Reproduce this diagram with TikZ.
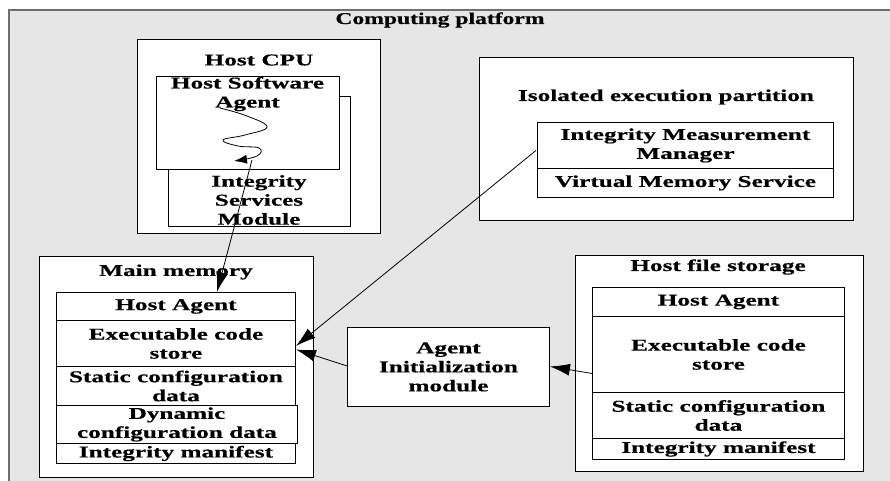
\documentclass[tikz,border=0pt]{standalone}
\usepackage{fontspec}
\setmainfont{Liberation Serif}
\newfontfamily\wfont{Liberation Serif}[FakeStretch=1.53,FakeBold=0.5]
\newfontfamily\pfont{Liberation Serif}[FakeStretch=1.43,FakeBold=0.5]
\usetikzlibrary{arrows.meta,calc}
\definecolor{platgrey}{HTML}{E6E6E6}
\definecolor{platline}{HTML}{6E6E6E}
\tikzset{
  box/.style={draw=black, line width=0.9pt, fill=white, inner sep=0pt, anchor=north west},
  cell/.style={box, align=center, font=\wfont\bfseries\fontsize{16.5}{19}\selectfont},
  txt/.style={inner sep=0pt, align=center, font=\wfont\bfseries\fontsize{16.5}{19}\selectfont},
  arr/.style={line width=0.8pt, -{Latex[length=20pt,width=12pt]}},
  warr/.style={line width=0.8pt, -{Latex[length=13pt,width=9pt]}}
}
\begin{document}
\begin{tikzpicture}[x=1pt,y=-1pt]
\useasboundingbox (0,0) rectangle (890,480);
\clip (0,0) rectangle (890,480);
% platform
\draw[fill=platgrey, draw=platline, line width=2pt] (9,10) rectangle (900,495);
\node[inner sep=0pt, font=\pfont\bfseries\fontsize{16.5}{19}\selectfont] (plat) at (440,20) {Computing platform};

% Host CPU
\node[box, minimum width=243, minimum height=194] (cpu) at (137,39) {};
\node[txt] (cputitle) at (259,60) {Host CPU};
\node[box, minimum width=182, minimum height=130] (ism) at (168,96) {};
\node[txt] (ismtxt) at (259,200) {Integrity\\Services\\Module};
\node[box, minimum width=183, minimum height=93] (hsa) at (156,76) {};
\node[txt] (hsatxt) at (247.5,94) {Host Software\\Agent};
\draw[warr] plot[smooth, tension=0.7] coordinates {(220,108) (247,116) (267,127) (245,135) (223,140) (238,146) (259,148) (257,156) (234,161)};

% Isolated execution partition
\node[box, minimum width=374, minimum height=163] (iep) at (479,57) {};
\node[txt] (ieptitle) at (666,97) {Isolated execution partition};
\node[cell, minimum width=296, minimum height=46] (imm) at (537,122) {Integrity Measurement\\Manager};
\node[cell, minimum width=296, minimum height=29] (vms) at (537,168) {Virtual Memory Service};

% Main memory
\node[box, minimum width=274, minimum height=221] (mm) at (39,256) {};
\node[txt] (mmtitle) at (176,272) {Main memory};
\node[cell, minimum width=239, minimum height=28] (mha) at (56,292) {Host Agent};
\node[cell, minimum width=239, minimum height=46] (mexec) at (56,320) {Executable code\\store};
\node[cell, minimum width=239, minimum height=39] (mstat) at (56,366) {Static configuration\\data};
\node[cell, minimum width=241, minimum height=38] (mdyn) at (56,405) {Dynamic\\configuration data};
\node[cell, minimum width=239, minimum height=20] (mman) at (56,443) {Integrity manifest};

% Agent Initialization module
\node[cell, minimum width=202, minimum height=79] (aim) at (347,327) {Agent\\Initialization\\module};

% Host file storage
\node[box, minimum width=288, minimum height=216] (hfs) at (575,255) {};
\node[txt] (hfstitle) at (718,267) {Host file storage};
\node[cell, minimum width=252, minimum height=29] (fha) at (592,287) {Host Agent};
\node[cell, minimum width=252, minimum height=76] (fexec) at (592,316) {Executable code\\store};
\node[cell, minimum width=252, minimum height=46] (fstat) at (592,392) {Static configuration\\data};
\node[cell, minimum width=252, minimum height=21] (fman) at (592,438) {Integrity manifest};

% connectors
\coordinate (s1) at (252,160);
\draw[arr] (s1) -- ($(mha.north)+(41,0)$);
\draw[arr] ($(imm.west)+(-1,5)$) -- ($(mexec.east)+(0,2.5)$);
\draw[arr] ($(aim.west)+(0,-1)$) -- ($(mexec.east)+(0,6)$);
\draw[arr] ($(fexec.west)+(0,19)$) -- ($(aim.east)+(0,-0.5)$);
\end{tikzpicture}
\end{document}
